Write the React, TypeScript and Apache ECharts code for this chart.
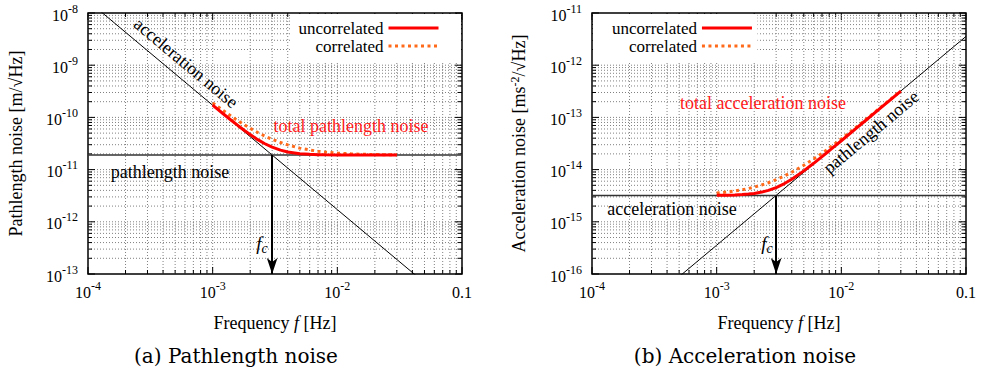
import React, { useEffect, useRef } from 'react';
import * as echarts from 'echarts';

// ---------- data ----------
const freqs = [1e-3, 1.2e-3, 1.4e-3, 1.6e-3, 1.8e-3, 2e-3, 2.3e-3, 2.6e-3, 3e-3, 3.5e-3, 4e-3, 5e-3, 6e-3, 7e-3, 8e-3, 1e-2, 1.3e-2, 1.6e-2, 2e-2, 2.5e-2, 3e-2];

// (a) pathlength noise
const pathUncorrelated = [1.72e-10, 1.2e-10, 8.93e-11, 6.94e-11, 5.61e-11, 4.68e-11, 3.75e-11, 3.16e-11, 2.69e-11, 2.36e-11, 2.18e-11, 2.02e-11, 1.96e-11, 1.93e-11, 1.92e-11, 1.91e-11, 1.9e-11, 1.9e-11, 1.9e-11, 1.9e-11, 1.9e-11];
const pathCorrelated = [1.9e-10, 1.38e-10, 1.06e-10, 8.58e-11, 7.18e-11, 6.18e-11, 5.13e-11, 4.43e-11, 3.8e-11, 3.3e-11, 2.97e-11, 2.58e-11, 2.38e-11, 2.25e-11, 2.17e-11, 2.07e-11, 2.0e-11, 1.97e-11, 1.94e-11, 1.93e-11, 1.92e-11];
const pathAccelFreqs = [1e-4, 1e-3, 1e-2, 1e-1];
const pathAccelValues = [1.71e-8, 1.71e-10, 1.71e-12, 1.71e-14];
const pathLevelFreqs = [1e-4, 1e-1];
const pathLevelValues = [1.9e-11, 1.9e-11];

// (b) acceleration noise
const accUncorrelated = [3.22e-15, 3.24e-15, 3.27e-15, 3.33e-15, 3.4e-15, 3.5e-15, 3.71e-15, 4.0e-15, 4.53e-15, 5.4e-15, 6.53e-15, 9.45e-15, 1.32e-14, 1.77e-14, 2.3e-14, 3.57e-14, 6.02e-14, 9.11e-14, 1.42e-13, 2.22e-13, 3.2e-13];
const accCorrelated = [3.56e-15, 3.71e-15, 3.9e-15, 4.11e-15, 4.35e-15, 4.62e-15, 5.08e-15, 5.6e-15, 6.4e-15, 7.56e-15, 8.89e-15, 1.21e-14, 1.6e-14, 2.06e-14, 2.6e-14, 3.88e-14, 6.33e-14, 9.42e-14, 1.46e-13, 2.25e-13, 3.23e-13];
const accPathFreqs = [1e-4, 1e-3, 1e-2, 1e-1];
const accPathValues = [3.56e-18, 3.56e-16, 3.56e-14, 3.56e-12];
const accLevelFreqs = [1e-4, 1e-1];
const accLevelValues = [3.2e-15, 3.2e-15];

const cornerFreq = 3e-3;

// tick labels (by decade)
const xTickLabels = ['10^-4', '10^-3', '10^-2', '0.1'];
const leftYTickLabels = ['10^-13', '10^-12', '10^-11', '10^-10', '10^-9', '10^-8'];
const rightYTickLabels = ['10^-16', '10^-15', '10^-14', '10^-13', '10^-12', '10^-11'];

const SERIF = 'Liberation Serif';
const CAPTION_FONT = 'DejaVu Serif';
const RED = '#ff0000';
const ORANGE = '#ff6a1a';

const toRich = (s: string) => {
  const [b, e] = s.split('^');
  return e ? `{b|${b}}{s|${e}}` : `{b|${b}}`;
};

const tickRich = {
  b: { fontFamily: SERIF, fontSize: 16, color: '#000', padding: [4, 0, 0, 0] },
  s: { fontFamily: SERIF, fontSize: 12, color: '#000', padding: [0, 0, 9, 0] },
};

const pairs = (xs: number[], ys: number[]) => xs.map((x, i) => [x, ys[i]]);

const decadeValues = (min: number, max: number) => {
  const out: number[] = [];
  const e0 = Math.round(Math.log10(min));
  const e1 = Math.round(Math.log10(max));
  for (let e = e0; e <= e1; e++) {
    for (let m = 1; m <= 9; m++) {
      const v = m * Math.pow(10, e);
      if (v >= min * 0.999 && v <= max * 1.001) out.push(v);
    }
  }
  return out;
};

const isDecade = (v: number) => Math.abs(Math.log10(v) - Math.round(Math.log10(v))) < 1e-9;

const gridRenderer = (xMin: number, xMax: number, yMin: number, yMax: number) => (params: any, api: any) => {
  const children: any[] = [];
  const [x0, y0] = api.coord([xMin, yMin]);
  const [x1, y1] = api.coord([xMax, yMax]);
  const gridStyle = { stroke: '#808080', lineWidth: 1, lineDash: [1, 2] };
  const tickStyle = { stroke: '#000', lineWidth: 1 };
  decadeValues(xMin, xMax).forEach((v) => {
    const px = api.coord([v, yMin])[0];
    const L = isDecade(v) ? 7 : 4;
    if (v > xMin * 1.001 && v < xMax * 0.999) {
      children.push({ type: 'line', shape: { x1: px, y1: y0, x2: px, y2: y1 }, style: gridStyle });
    }
    children.push({ type: 'line', shape: { x1: px, y1: y0, x2: px, y2: y0 - L }, style: tickStyle });
    children.push({ type: 'line', shape: { x1: px, y1: y1, x2: px, y2: y1 + L }, style: tickStyle });
  });
  decadeValues(yMin, yMax).forEach((v) => {
    const py = api.coord([xMin, v])[1];
    const L = isDecade(v) ? 7 : 4;
    if (v > yMin * 1.001 && v < yMax * 0.999) {
      children.push({ type: 'line', shape: { x1: x0, y1: py, x2: x1, y2: py }, style: gridStyle });
    }
    children.push({ type: 'line', shape: { x1: x0, y1: py, x2: x0 + L, y2: py }, style: tickStyle });
    children.push({ type: 'line', shape: { x1: x1, y1: py, x2: x1 - L, y2: py }, style: tickStyle });
  });
  return { type: 'group', children };
};

const xAxisCfg = (gridIndex: number) => ({
  type: 'log',
  logBase: 10,
  gridIndex,
  min: 1e-4,
  max: 0.1,
  axisLine: { show: false },
  axisTick: { show: false },
  splitLine: { show: false },
  minorTick: { show: false },
  axisLabel: {
    margin: 6,
    formatter: (v: number) => toRich(xTickLabels[Math.round(Math.log10(v)) + 4] || ''),
    rich: tickRich,
  },
  name: '{n|Frequency }{i|f}{n| [Hz]}',
  nameLocation: 'middle',
  nameGap: 40,
  nameTextStyle: {
    rich: {
      n: { fontFamily: SERIF, fontSize: 18, color: '#000' },
      i: { fontFamily: SERIF, fontSize: 18, fontStyle: 'italic', color: '#000' },
    },
  },
});

const yAxisCfg = (gridIndex: number, min: number, max: number, labels: string[], name: string) => ({
  type: 'log',
  logBase: 10,
  gridIndex,
  min,
  max,
  axisLine: { show: false },
  axisTick: { show: false },
  splitLine: { show: false },
  minorTick: { show: false },
  axisLabel: {
    margin: 10,
    formatter: (v: number) => toRich(labels[Math.round(Math.log10(v) - Math.log10(min))] || ''),
    rich: tickRich,
  },
  name,
  nameLocation: 'middle',
  nameGap: 63,
  nameRotate: 90,
  nameTextStyle: {
    rich: {
      n: { fontFamily: SERIF, fontSize: 18, color: '#000' },
      s: { fontFamily: SERIF, fontSize: 12, color: '#000', padding: [0, 0, 8, 0] },
    },
  },
});

const curve = (name: string, xi: number, xs: number[], ys: number[], color: string, width: number, type: any, extra: any = {}) => ({
  name,
  type: 'line',
  xAxisIndex: xi,
  yAxisIndex: xi,
  data: pairs(xs, ys),
  symbol: 'none',
  showSymbol: false,
  silent: true,
  clip: true,
  z: 3,
  lineStyle: { color, width, type },
  itemStyle: { color },
  ...extra,
});

const arrowMark = (level: number, bottom: number) => ({
  silent: true,
  symbol: ['none', 'arrow'],
  symbolSize: [8, 16],
  label: { show: false },
  lineStyle: { color: '#000', width: 2, type: 'solid' },
  data: [[{ coord: [cornerFreq, level] }, { coord: [cornerFreq, bottom] }]],
});

const annotation = (text: string, x: number, y: number, color = '#000', rotation = 0) => ({
  type: 'text',
  x,
  y,
  rotation,
  silent: true,
  z: 10,
  style: { text, fill: color, fontFamily: SERIF, fontSize: 18, align: 'center', verticalAlign: 'middle' },
});

const fcLabel = (x: number, y: number) => ({
  type: 'text',
  x,
  y,
  silent: true,
  z: 10,
  style: {
    text: '{i|f}{c|c}',
    align: 'center',
    verticalAlign: 'middle',
    rich: {
      i: { fontFamily: SERIF, fontStyle: 'italic', fontSize: 19, fill: '#000', padding: [0, 0, 4, 0] },
      c: { fontFamily: SERIF, fontStyle: 'italic', fontSize: 14, fill: '#000', padding: [6, 0, 0, 0] },
    },
  },
});

const caption = (text: string, x: number, y: number) => ({
  type: 'text',
  x,
  y,
  silent: true,
  style: { text, fill: '#000', fontFamily: CAPTION_FONT, fontSize: 20, align: 'center', verticalAlign: 'middle' },
});

const legendCfg = (pos: any, padding: number[]) => ({
  ...pos,
  top: 14,
  orient: 'vertical',
  align: 'right',
  data: ['uncorrelated', 'correlated'],
  itemWidth: 50,
  itemHeight: 14,
  itemGap: 0,
  padding,
  backgroundColor: '#fff',
  selectedMode: false,
  textStyle: { fontFamily: SERIF, fontSize: 17, lineHeight: 18, color: '#000' },
  lineStyle: { width: 3 },
  itemStyle: { color: 'rgba(0,0,0,0)', borderWidth: 0, opacity: 0 },
  z: 6,
});

export default function App() {
  const ref = useRef<HTMLDivElement>(null);
  useEffect(() => {
    if (!ref.current) return;
    const chart = echarts.init(ref.current, undefined, { renderer: 'svg' });
    const option: any = {
      animation: false,
      backgroundColor: '#fff',
      textStyle: { fontFamily: SERIF },
      grid: [
        { left: 88, top: 13, width: 374, height: 261, show: true, borderColor: '#000', borderWidth: 1.5, backgroundColor: 'transparent' },
        { left: 592, top: 13, width: 374, height: 261, show: true, borderColor: '#000', borderWidth: 1.5, backgroundColor: 'transparent' },
      ],
      xAxis: [xAxisCfg(0), xAxisCfg(1)],
      yAxis: [
        yAxisCfg(0, 1e-13, 1e-8, leftYTickLabels, '{n|Pathlength noise [m/√Hz]}'),
        yAxisCfg(1, 1e-16, 1e-11, rightYTickLabels, '{n|Acceleration noise [ms}{s|-2}{n|/√Hz]}'),
      ],
      legend: [
        legendCfg({ right: 522 }, [5, 21, 8, 8]),
        legendCfg({ left: 593 }, [5, 4, 8, 19]),
      ],
      series: [
        {
          name: 'grid a', type: 'custom', xAxisIndex: 0, yAxisIndex: 0, silent: true, z: 1,
          data: [[1e-3, 1e-10]], renderItem: gridRenderer(1e-4, 0.1, 1e-13, 1e-8),
        },
        {
          name: 'grid b', type: 'custom', xAxisIndex: 1, yAxisIndex: 1, silent: true, z: 1,
          data: [[1e-3, 1e-13]], renderItem: gridRenderer(1e-4, 0.1, 1e-16, 1e-11),
        },
        curve('acceleration noise (a)', 0, pathAccelFreqs, pathAccelValues, '#000', 1, 'solid'),
        curve('pathlength noise (a)', 0, pathLevelFreqs, pathLevelValues, '#333', 1.5, 'solid', {
          markLine: arrowMark(pathLevelValues[0], 1e-13),
        }),
        curve('correlated', 0, freqs, pathCorrelated, ORANGE, 3, [3, 3.5]),
        curve('uncorrelated', 0, freqs, pathUncorrelated, RED, 3, 'solid'),
        curve('pathlength noise (b)', 1, accPathFreqs, accPathValues, '#000', 1, 'solid'),
        curve('acceleration noise (b)', 1, accLevelFreqs, accLevelValues, '#333', 1.5, 'solid', {
          markLine: arrowMark(accLevelValues[0], 1e-16),
        }),
        curve('correlated', 1, freqs, accCorrelated, ORANGE, 3, [3, 3.5]),
        curve('uncorrelated', 1, freqs, accUncorrelated, RED, 3, 'solid'),
      ],
      graphic: [
        annotation('acceleration noise', 186, 63, '#000', -0.697),
        annotation('total pathlength noise', 351, 126, '#ff1a1a'),
        annotation('pathlength noise', 170, 172),
        fcLabel(262, 245),
        annotation('total acceleration noise', 763, 103, '#ff1a1a'),
        annotation('pathlength noise', 871, 132, '#000', 0.697),
        annotation('acceleration noise', 672, 209),
        fcLabel(767, 245),
        caption('(a) Pathlength noise', 236, 356),
        caption('(b) Acceleration noise', 745, 356),
      ],
    };
    chart.setOption(option);
    return () => chart.dispose();
  }, []);
  return <div ref={ref} style={{ position: 'absolute', left: 0, top: 0, width: 983, height: 378 }} />;
}
